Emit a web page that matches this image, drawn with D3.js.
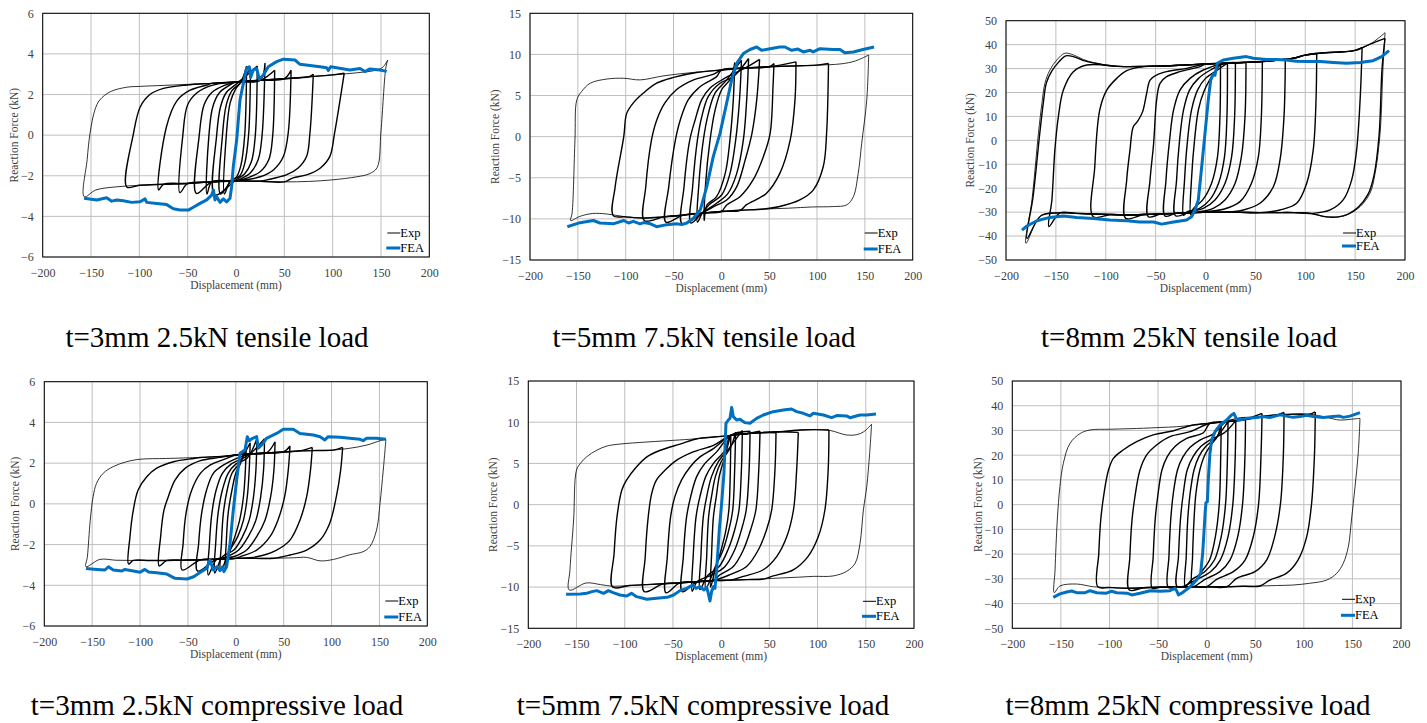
<!DOCTYPE html>
<html>
<head>
<meta charset="utf-8">
<script src="https://cdn.jsdelivr.net/npm/d3@7"></script>
<style>
body { margin: 0; background: #fff; }
text { font-family: "Liberation Serif", "Times New Roman", serif; }
</style>
</head>
<body>
<svg id="chart" width="1427" height="723"></svg>
<script>
// tick labels
var xTicks = [-200, -150, -100, -50, 0, 50, 100, 150, 200];
var yTicks6 = [-6, -4, -2, 0, 2, 4, 6];
var yTicks15 = [-15, -10, -5, 0, 5, 10, 15];
var yTicks50 = [-50, -40, -30, -20, -10, 0, 10, 20, 30, 40, 50];

var titles = ["t=3mm 2.5kN tensile load", "t=5mm 7.5kN tensile load", "t=8mm 25kN tensile load",
              "t=3mm 2.5kN compressive load", "t=5mm 7.5kN compressive load", "t=8mm 25kN compressive load"];

// ---------- t=3mm tensile ----------
// peaks: [d+, F+, d-, F-]
var t3T_peaks = [[157,3.7,-157,-3.03],[112,3.05,-113,-2.55],[80,3.0,-80,-2.7],[57,3.2,-58,-2.83],[40,3.2,-41,-2.87],
  [30,3.55,-30,-2.9],[22,3.4,-22,-2.95],[15,3.3,-16,-2.9],[11,3.4,-12,-2.9]];
var t3T_unload = [
  [[155,3.3],[150,0.2],[146,-1.6],[138,-1.9],[125,-2.05]],
  [[102,0.1],[97,-1.06],[87,-1.63],[73,-1.96],[59,-2.1]],
  [[76.5,0.1],[73,-1.05],[64,-1.63],[52,-1.96],[32,-2.2]],
  [[54,0.1],[49,-1.05],[39,-1.7],[25,-2.05]],
  [[38,0],[34,-1.2],[25,-1.8],[12,-2.1]],
  [[27,0],[23,-1.2],[15,-1.85],[5,-2.15]],
  [[20,0],[16,-1.3],[9,-1.9],[0,-2.2]],
  [[13,0],[9,-1.4],[4,-2.0],[-4,-2.2]],
  [[9,0],[5,-1.5],[0,-2.1],[-6,-2.25]]];
var t3T_reload = [
  [[-154,-1.2],[-151,0.1],[-146,1.24],[-141,1.73],[-130,2.14],[-113,2.36]],
  [[-106,0.1],[-99,1.4],[-89,2.0],[-75,2.3],[-51,2.47]],
  [[-72,0.4],[-61,1.7],[-48,2.2],[-30,2.47]],
  [[-55,0],[-50,1.5],[-40,2.1],[-25,2.45]],
  [[-38,0],[-33,1.5],[-25,2.1],[-12,2.45]],
  [[-28,0],[-24,1.4],[-17,2.1],[-7,2.45]],
  [[-20,0],[-16,1.4],[-10,2.1],[0,2.5]],
  [[-14,0],[-10,1.5],[-4,2.2],[4,2.55]],
  [[-10,0],[-6,1.6],[0,2.3],[5,2.6]]];
var t3T_upper = [[-100,2.4],[-75,2.45],[-50,2.5],[-25,2.55],[0,2.62],[25,2.7],[50,2.78],[75,2.87],[100,2.97],[125,3.07],[145,3.2],[152,3.35]];
var t3T_lower = [[125,-2.1],[100,-2.2],[75,-2.28],[50,-2.3],[25,-2.27],[0,-2.25],[-25,-2.3],[-50,-2.38],[-75,-2.42],[-100,-2.47],[-125,-2.55],[-145,-2.7]];
var t3T_fea = [[-157.2,-3.11],[-144.1,-3.19],[-133.8,-3.08],[-128.6,-3.25],[-123.4,-3.19],[-116.6,-3.23],[-107.9,-3.31],[-99.3,-3.28],
  [-94.1,-3.14],[-92.4,-3.31],[-82.1,-3.36],[-71.7,-3.42],[-64.8,-3.62],[-57.9,-3.69],[-49.3,-3.69],[-44.1,-3.55],[-37.2,-3.36],
  [-30.3,-3.19],[-25.2,-2.95],[-23.4,-2.7],[-21.7,-3.19],[-20,-3.03],[-16.6,-3.31],[-13.1,-3.14],[-9.7,-3.29],[-6.2,-3.11],
  [-4.5,-2.54],[-2.8,-1.55],[0.7,-0.24],[4.1,1.73],[7.6,2.55],[11,3.29],[13.8,3.37],[15.2,2.85],[17.9,3.21],[21.4,3.29],
  [24.1,2.75],[28.3,2.96],[33.4,3.37],[42.1,3.62],[49,3.74],[61,3.7],[66.2,3.49],[86.9,3.37],[93.8,3.32],[95.5,3.18],
  [97.9,3.37],[117.9,3.21],[128.3,3.28],[133.4,3.13],[138.6,3.26],[149,3.21],[155.9,3.14]];

// ---------- t=5mm tensile ----------
var t5T_peaks = [[154,9.93,-157.5,-10.2],[112,8.9,-113,-9.6],[78,9.1,-80.5,-10.2],[55,8.9,-58,-10.4],[40,9.4,-41,-10.6],
  [28.5,9.5,-32,-10.5],[21,9.3,-25,-10.4],[14,9.0,-18,-10.2]];
var t5T_unload = [
  [[152,4.5],[146.7,-0.8],[143,-4.5],[138,-7.3],[131,-8.3],[117,-8.5]],
  [[110,0.4],[106.6,-3.6],[96,-6.5],[82,-7.7],[61,-8.5]],
  [[77,4.5],[72,-0.4],[61,-4.5],[47,-6.9],[26,-8.3]],
  [[54,6.1],[51,0.4],[44,-2.4],[33,-5.3],[19.5,-7.3],[5.6,-8.3]],
  [[37,4.5],[32,0.4],[25,-2.8],[16,-6.1],[5.6,-7.7],[-8,-8.5]],
  [[26.5,4.5],[23,-0.4],[16,-4.5],[7,-6.9],[-5,-8.1]],
  [[19,4.5],[15,-0.4],[9,-4.5],[0.3,-7.1],[-12,-8.2]],
  [[12.5,4.5],[9,-0.4],[4,-4.5],[-5,-7.3],[-15,-8.3]]];
var t5T_reload = [
  [[-156,-9.3],[-153,-0.4],[-151,4.5],[-146,5.5],[-137,6.5],[-120,7.0],[-102,7.1],[-85,6.9]],
  [[-111,-6.1],[-102,0],[-99,2.8],[-92,4.1],[-81.5,5.3],[-67.6,6.5],[-50,7.2],[-26,7.8]],
  [[-79,-6.1],[-73,-0.4],[-67.6,2.0],[-59,4.1],[-47,5.7],[-29,6.9],[-8,7.6]],
  [[-55,-6.1],[-48,-0.4],[-43,2.0],[-34.5,4.5],[-22,6.1],[-5,7.3]],
  [[-39,-6.1],[-33,-0.4],[-27.5,2.0],[-20.5,4.5],[-12,5.9],[2,7]],
  [[-30,-6.1],[-25,-0.4],[-20.5,2.4],[-13.6,4.9],[-1.4,6.5],[12.5,7.3]],
  [[-23.7,-6.1],[-18.8,-0.4],[-13.6,2.8],[-6.6,5.3],[5.6,6.9]],
  [[-16.7,-6.1],[-11.8,-0.4],[-6.6,3.2],[0.3,5.7],[10,7.1]]];
var t5T_upper = [[-60,7.4],[-30,7.8],[0,8.1],[25,8.35],[50,8.5],[75,8.6],[100,8.7],[125,8.85],[140,9.2]];
var t5T_lower = [[120,-8.45],[95,-8.55],[70,-8.7],[45,-8.8],[20,-8.95],[0,-9.1],[-20,-9.3],[-40,-9.55],[-60,-9.75],[-80,-9.9],
  [-100,-9.75],[-120,-9.4],[-135,-9.35],[-148,-9.7]];
var t5T_fea = [[-161,-10.95],[-147.7,-10.46],[-133.8,-10.2],[-126.8,-10.5],[-113,-10.6],[-102,-10.2],[-97,-10.5],[-92,-10.3],
  [-85,-10.6],[-81,-10.45],[-74,-10.6],[-67.6,-10.95],[-57,-10.7],[-46.7,-10.6],[-41.5,-10.7],[-36,-10.5],[-29,-9.9],
  [-22,-8.9],[-15.3,-6.1],[-8.4,-2.4],[-1.4,0.4],[5.6,4.1],[10.8,6.9],[16,8.9],[23,10.1],[30,10.6],[37,10.9],[42,10.5],
  [51,10.7],[61,10.9],[66.5,10.9],[73.5,10.5],[80,10.65],[85.7,10.3],[92.7,10.5],[96,10.3],[103,10.7],[117,10.6],
  [124,10.6],[129,10.2],[138,10.3],[148,10.6],[159.6,10.9]];

// ---------- t=8mm tensile ----------
var t8T_peaks = [[180,45,-180,-43],[180,42.6,-179,-41],[157,38.7,-157,-36],[111.5,36.4,-112.5,-31.9],[80,33.8,-80,-32.6],
  [57,32.9,-57.3,-31.9],[40.6,32.5,-40.6,-31.6],[30,32.5,-30,-31.5],[22,32.3,-22,-31.3],[15,32,-15,-31]];
var t8T_unload = [
  [[178,30.8],[175,2.9],[170,-13.8],[165,-22],[155,-27.7],[145,-30.5],[135,-31.9],[121,-31.9]],
  [[177,30],[174,2],[169,-14.5],[163,-22.5],[153,-28],[143,-30.8],[133,-32],[121,-32]],
  [[155,16.9],[151.5,-4],[146.5,-16.6],[138,-24.9],[125,-29.1],[108,-30.5]],
  [[110.8,16.9],[108,-4],[101.4,-18],[91.4,-26.3],[74.7,-29.1],[54.6,-30.2]],
  [[78.7,9.9],[74.7,-8.2],[68,-19.4],[54.6,-26.3],[38,-29.1],[21,-30]],
  [[56,9.9],[53,-6.8],[46,-18],[34.6,-25.6],[18,-28.8],[1,-29.8]],
  [[39.6,9.9],[36,-6.8],[29.6,-18],[19.5,-24.9],[7.8,-28.4],[-5.5,-29.8]],
  [[29.2,9.9],[26.2,-6.8],[19.5,-18],[9.5,-24.9],[-2.2,-28.4],[-15.5,-29.8]],
  [[21.5,10],[19,-7],[13,-18],[4,-25],[-6,-28.4],[-18,-29.8]],
  [[14.5,10],[12,-7],[6,-18],[-3,-25],[-12,-28.4]]];
var t8T_reload = [
  [[-174,-25],[-167.5,2.9],[-164,15.5],[-161,23.8],[-156,29.4],[-149,33.6],[-141,36.4],[-132.5,35.7],[-122.5,33.8],[-112.5,32.5],[-96,31.1]],
  [[-173,-24],[-166,3.5],[-162.5,16],[-159.5,24],[-154,29],[-147,32.8],[-140,35.3],[-131,34.8],[-121,33.2],[-110,32.2],[-95,31.1]],
  [[-154,-24.9],[-151,-4],[-147.5,9.9],[-142.5,21],[-132.5,28.7],[-119,31.5]],
  [[-111,-11],[-106,12.7],[-99,21],[-89,25.9],[-79,29.1],[-62,30.8]],
  [[-79,-16.6],[-75.7,-4],[-72.4,5.7],[-68,8],[-63,12],[-59,19.6],[-55.6,25.2],[-49,27.3],[-39,28.7],[-19,30.1]],
  [[-55.6,-16.6],[-52,-1.3],[-49,16.9],[-45.6,23.8],[-39,26.6],[-25.6,28.7],[-5.5,30.8]],
  [[-39.6,-16.6],[-36,0.1],[-32,12.7],[-25.6,21],[-15.5,25.9],[-2.2,29.4]],
  [[-29,-16.6],[-26,0],[-22,12.7],[-16,21],[-7,25.9],[5,29.4]],
  [[-21,-16.6],[-18,0],[-14,12.7],[-8,21],[0,25.9],[12,29.4]],
  [[-14,-16],[-11,0],[-7,13],[-1,21],[6,26.5]]];
var t8T_upper = [[-80,30.8],[-60,30.9],[-40,31.1],[-20,31.5],[0,31.9],[20,32.2],[40,32.6],[55,32.9],[70,33.4],[88,34.3],
  [100,35.6],[120,36.6],[138,37],[150,37.6],[165,40.2]];
var t8T_lower = [[121,-31.9],[105,-30.5],[88,-30.2],[70,-30.2],[55,-30.2],[35,-30.1],[20,-30],[0,-30.1],[-12,-30.2],[-30,-30.5],
  [-45,-30.8],[-62,-31.0],[-79,-31.2],[-95,-31.0],[-112,-30.8],[-130,-30.5],[-146,-30.3],[-165,-31.5]];
var t8T_fea = [[-184,-37.5],[-179,-35.8],[-169,-33.6],[-156,-32.2],[-142.5,-31.6],[-129,-32.2],[-112.5,-32.7],[-96,-33.3],
  [-79,-33.6],[-66,-34.1],[-52,-34.1],[-44,-35],[-32,-34.1],[-19,-33.3],[-14,-31.9],[-10.5,-29.1],[-7.2,-24.9],[-3.8,-11],
  [-0.5,2.9],[2.8,16.9],[5.2,25.2],[7.9,27.7],[9.5,27.2],[11.9,32.2],[17.9,33.6],[27.9,34.3],[41,35],[48,34.3],[61,33.8],
  [71,33.8],[81,33.6],[91,33.1],[101,32.9],[115,32.9],[128,32.5],[141.5,32.2],[155,32.5],[168,33.3],[176.6,35],[184,37.5]];

// ---------- t=3mm compressive ----------
var t3C_peaks = [[156.8,3.17,-156.5,-3.09],[111.6,2.77,-112,-2.95],[79.9,2.77,-80,-3.05],[56.6,2.84,-56,-3.25],[41,3.05,-40,-3.3],
  [30,3.2,-28.7,-3.5],[22,3.2,-22,-3.4],[15,3.0,-16,-3.3],[11,3.0,-11,-3.2]];
var t3C_unload = [
  [[154,1.66],[150.6,0.02],[147,-1.29],[140,-2.1],[133,-2.35]],
  [[109.5,1.66],[105,0.35],[98,-0.96],[88,-1.78],[74,-2.27],[56.6,-2.51]],
  [[78,1.66],[74,0.35],[67,-0.8],[56.6,-1.78],[42.6,-2.27],[21.8,-2.6]],
  [[54.8,1.66],[51,0.35],[44,-0.8],[35.7,-1.61],[21.8,-2.27],[4.4,-2.6]],
  [[39.8,1.66],[36.4,0.35],[30.5,-0.8],[21.8,-1.61],[11.3,-2.27],[-2.6,-2.6]],
  [[29,1.66],[26,0.35],[21,-0.8],[13,-1.61],[3,-2.27],[-10,-2.6]],
  [[21,1.66],[18.5,0.35],[14,-0.8],[7,-1.61],[-2,-2.27],[-14,-2.6]],
  [[14,1.66],[12,0.35],[8,-0.8],[2,-1.61],[-6,-2.27]],
  [[10,1.66],[8,0.35],[4,-0.8],[-1,-1.61],[-6,-2.3]]];
var t3C_reload = [
  [[-155,-2.6],[-152,-0.8],[-149,0.35],[-145.5,1.0],[-138.5,1.5],[-128,1.83],[-114,2.07]],
  [[-110.5,-1.61],[-107,-0.3],[-102,0.68],[-93,1.33],[-83,1.74],[-65,2.07],[-44,2.23]],
  [[-78.5,-1.61],[-75,-0.3],[-70.5,0.35],[-63.5,1.17],[-53,1.74],[-37,2.12],[-16.5,2.28]],
  [[-55,-1.94],[-52,-0.47],[-46,0.68],[-37,1.5],[-27,1.9],[-9.6,2.23]],
  [[-38.8,-1.94],[-35.7,-0.47],[-30.5,0.68],[-23.5,1.5],[-13,1.9],[0.9,2.23]],
  [[-27.5,-1.94],[-25,-0.47],[-20.5,0.68],[-14,1.5],[-5,1.95],[8,2.25]],
  [[-21,-1.94],[-18.5,-0.47],[-14,0.68],[-8,1.5],[0,1.95],[12,2.25]],
  [[-15,-1.94],[-13,-0.47],[-9,0.68],[-4,1.5],[3,1.95]],
  [[-10,-1.94],[-8,-0.47],[-4,0.68],[0,1.5],[5,2.0]]];
var t3C_upper = [[-100,2.19],[-72,2.23],[-37,2.28],[-15,2.33],[0,2.4],[15,2.45],[32,2.5],[50,2.55],[67,2.6],[85,2.62],[102,2.64],
  [119,2.73],[137,2.89],[150.6,3.1]];
var t3C_lower = [[119,-2.5],[102,-2.73],[88,-2.8],[74,-2.63],[60,-2.65],[40,-2.67],[20,-2.68],[0,-2.68],[-20,-2.72],[-37,-2.75],
  [-55,-2.77],[-72,-2.78],[-90,-2.78],[-107,-2.78],[-125,-2.77],[-142,-2.73]];
var t3C_fea = [[-156.5,-3.17],[-145,-3.22],[-136.7,-3.25],[-133,-3.09],[-128,-3.25],[-119,-3.3],[-115.8,-3.22],[-107,-3.3],
  [-100,-3.36],[-95,-3.22],[-91,-3.35],[-82.7,-3.38],[-72,-3.45],[-63.5,-3.66],[-51,-3.69],[-44,-3.58],[-37,-3.36],[-30.5,-3.17],
  [-27,-2.76],[-23.5,-3.25],[-20,-3.09],[-16.5,-3.28],[-13.8,-3.09],[-12.4,-3.33],[-9.6,-3.09],[-6,-1.94],[-2.6,-0.3],
  [0.9,1.17],[4.4,2.48],[9.6,2.64],[12,3.3],[14,3.1],[17.6,3.22],[21.8,3.3],[23.5,2.73],[27,2.89],[32,3.22],[42.6,3.46],
  [49.6,3.66],[60,3.66],[67,3.46],[81,3.38],[88,3.3],[93,3.14],[96.6,3.3],[108.8,3.27],[119,3.22],[129.7,3.17],[133,3.1],
  [136.6,3.22],[147,3.22],[156.8,3.17]];

// ---------- t=5mm compressive ----------
var t5C_peaks = [[156,9.75,-157.5,-10.35],[111.8,9.06,-112.5,-10.0],[80,8.77,-79.7,-10.55],[56.9,8.73,-57.2,-10.7],
  [40.3,8.9,-40.3,-10.55],[30,8.9,-30,-10.5],[22,9.0,-22,-10.3],[15,8.8,-16,-10.2],[10,8.5,-11,-10.0]];
var t5C_unload = [
  [[154,6.2],[151,2.2],[147.5,-0.65],[144,-4.7],[139,-7.1],[130,-8.1],[116,-8.65]],
  [[111,4.2],[107.6,-0.65],[100.7,-3.9],[90,-6.3],[74.8,-7.9],[54,-8.65]],
  [[78.3,4.2],[75,-0.65],[68,-3.9],[57.6,-6.3],[43.7,-7.9],[23,-8.7]],
  [[55.8,4.2],[52.4,-0.65],[47,-3.07],[38.5,-5.5],[26.4,-7.5],[9,-8.5]],
  [[39,4.2],[36,-0.65],[30.5,-3.07],[23,-5.5],[12.6,-7.5],[-1.2,-8.5]],
  [[29,4.2],[26,-0.65],[21,-3.07],[14,-5.5],[4,-7.5],[-9,-8.5]],
  [[21,4.2],[18.5,-0.65],[14,-3.07],[7,-5.5],[-2,-7.5],[-14,-8.6]],
  [[14,4.2],[12,-0.65],[8,-3.07],[2,-5.5],[-6,-7.5]],
  [[9.5,4],[8,-0.65],[5,-3.07],[0,-5.5],[-6,-7.8]]];
var t5C_reload = [
  [[-156.8,-7.9],[-153,-1.86],[-150,4.2],[-146,5.0],[-139.5,5.8],[-129,6.6],[-118.8,7.1]],
  [[-111,-5.9],[-108,-1.46],[-103,1.78],[-98,3.0],[-87.7,4.6],[-77,5.8],[-63,6.6],[-42.7,7.35]],
  [[-78.7,-6.3],[-75.6,-1.46],[-72,1.37],[-67,3.0],[-58,4.2],[-46,5.4],[-29,6.4],[-8,7.2]],
  [[-55.8,-6.3],[-52.4,-1.46],[-48,0.97],[-41,3.0],[-32,4.6],[-22,5.8],[-8,6.8]],
  [[-39.2,-6.3],[-35.8,-1.46],[-31.6,0.97],[-25.4,3.4],[-16.8,5.0],[-4.7,6.4]],
  [[-29,-6.3],[-26,-1.46],[-22,0.97],[-16,3.4],[-8,5.0],[4,6.6]],
  [[-21,-6.3],[-18.5,-1.46],[-15,0.97],[-10,3.4],[-3,5.2],[8,6.8]],
  [[-15,-6.3],[-13,-1.46],[-10,0.97],[-6,3.4],[0,5.2],[10,7]],
  [[-10,-6.3],[-8,-1.46],[-5,1],[-2,3.4],[3,5.5]]];
var t5C_upper = [[-105,7.35],[-77,7.6],[-43,7.85],[-25,8.0],[-8,8.2],[10,8.4],[26,8.6],[45,8.75],[61,8.85],[82,9.05],[96,9.1],
  [113,9.0],[130,8.45],[141,8.5],[148,8.85]];
var t5C_lower = [[116,-8.65],[96,-8.7],[80,-8.8],[61,-8.9],[45,-9.0],[26,-9.1],[10,-9.15],[-8,-9.2],[-25,-9.35],[-43,-9.5],
  [-60,-9.6],[-77,-9.7],[-95,-9.8],[-112,-9.9],[-125,-9.7],[-140,-9.5]];
var t5C_fea = [[-160.8,-10.88],[-146,-10.84],[-139.5,-10.76],[-134,-10.55],[-129,-10.43],[-122,-10.76],[-117,-10.43],[-112,-10.68],
  [-105,-10.96],[-98,-11.08],[-93,-10.76],[-87.7,-11.16],[-77,-11.48],[-67,-11.36],[-56,-11.24],[-49.3,-10.96],[-42.7,-10.43],
  [-35.8,-10.15],[-29.6,-9.75],[-26,-10.15],[-22,-9.95],[-17.8,-10.35],[-15,-10.03],[-13.3,-10.76],[-11.6,-11.69],[-9.9,-10.55],
  [-8,-9.95],[-6.4,-10.15],[-4.7,-7.9],[-1.9,-3.07],[0.5,0.16],[2.9,3.8],[5,9.87],[7.4,10.27],[9.2,10.47],[10.9,11.8],
  [12.6,10.68],[16,10.27],[19.5,10.35],[24.7,9.95],[29.9,9.87],[36.8,10.47],[43.7,10.88],[54,11.28],[64.4,11.48],[73,11.6],
  [78.3,11.28],[85.2,11.08],[92,10.76],[95.6,11.08],[106,10.88],[114.6,10.55],[119.8,10.8],[130,10.76],[133.6,10.55],
  [144,10.88],[151,10.88],[160.6,11.0]];

// ---------- t=8mm compressive ----------
var t8C_peaks = [[157.8,34.9,-156.8,-35.6],[111.8,37.5,-112,-33.2],[79.6,37.3,-79.6,-34.5],[57,36.9,-56,-33.8],
  [40,35.3,-39.5,-33.4],[30,34,-30,-33.3],[22,33.5,-22,-33],[15,33,-15,-32.5]];
var t8C_unload = [
  [[156,20.8],[152.7,7.3],[149,-6.2],[145.8,-17],[140.6,-23.7],[133.8,-27.8],[123.5,-30.5],[106,-31.8]],
  [[111,20.8],[108,0.5],[103,-12.9],[94,-22.4],[82,-27.8],[65,-30.5]],
  [[79,20.8],[76,0.5],[70,-12.9],[61.7,-22.4],[49.7,-27.1],[30.9,-29.8]],
  [[56,20.8],[53.5,0.5],[48,-12.9],[39.5,-22.4],[27.4,-27.1],[10.3,-30.2]],
  [[39.5,20.8],[37,0.5],[32,-12.9],[24,-22.4],[13.7,-27.1],[-1.7,-30.2]],
  [[29.5,20.8],[27,0.5],[22,-12.9],[14,-22.4],[4,-27.1],[-10,-30.2]],
  [[21.5,20.8],[19.5,0.5],[15,-12.9],[8,-22.4],[-2,-27.1],[-15,-30.2]],
  [[14.5,20],[13,0.5],[9,-12.9],[3,-22.4],[-6,-27.5]]];
var t8C_reload = [
  [[-156,-26.4],[-153.7,-6.2],[-151,7.3],[-147.5,16.7],[-140.6,24.8],[-130,28.8],[-120,30.2]],
  [[-111,-19.7],[-109,-6.2],[-105.6,4.6],[-101,14],[-96,18.7],[-86,22.1],[-72,25.5],[-55,28.2],[-34,29.9]],
  [[-79,-21],[-76.8,-6.2],[-73.8,3.2],[-68.6,14],[-61.7,20.1],[-51.5,24.1],[-37.7,27.5],[-17,29.5]],
  [[-55,-21],[-53,-6.2],[-50.4,3.2],[-46,14],[-40.5,19.4],[-32.6,23.5],[-20.6,26.8],[-3.4,29.1]],
  [[-38.8,-21],[-37,-6.2],[-34.3,4.6],[-30,14],[-24.7,19.1],[-17,23.2],[-6.9,26.1],[6.9,28.6]],
  [[-29,-21],[-27,-6.2],[-24,4.6],[-20,14],[-14,19.4],[-6,23.5],[5,26.5],[18,29]],
  [[-21,-21],[-19.5,-6.2],[-17,4.6],[-13,14],[-8,19.4],[-1,23.5],[9,26.8]],
  [[-14.5,-21],[-13,-6.2],[-11,4.6],[-7,14],[-2,20],[5,24.5],[11,27.5]]];
var t8C_upper = [[-99.5,30.5],[-80,30.7],[-65,30.9],[-48,31.2],[-31,31.5],[-15,32.1],[3.4,32.9],[20,33.5],[37.7,34.3],[55,35.5],
  [72,36.3],[90,36.6],[106,36.6],[123.5,35.3],[137,34.2],[147.5,34.5]];
var t8C_lower = [[106,-31.8],[89,-32.5],[72,-32.7],[55,-32.9],[38,-33.0],[20.6,-33.2],[0,-33.2],[-13.7,-33.2],[-30,-33.3],
  [-48,-33.4],[-65,-33.6],[-82,-33.8],[-100,-33.5],[-116.6,-33.2],[-133.8,-32.1],[-151,-32.9]];
var t8C_fea = [[-157.8,-37.5],[-151,-36.1],[-144,-35.3],[-139,-34.9],[-133.8,-35.6],[-125,-35.6],[-120,-34.8],[-113,-35.6],
  [-103,-35.8],[-97.8,-35],[-92.6,-35.6],[-82,-35.8],[-77,-36.5],[-68.6,-35.8],[-58,-34.8],[-48,-35],[-37.7,-34.8],[-32.6,-33.8],
  [-30.9,-34.8],[-29,-36.5],[-25.7,-35.8],[-17,-33.2],[-10.3,-30.5],[-6.2,-27.8],[-4.1,-19.7],[-2.4,-8.9],[-1.4,-2.2],[-0.7,0.8],
  [0.7,1.2],[1.7,10],[3.4,20.8],[5.1,26.1],[8.6,29.5],[13.7,32.2],[20.6,34.2],[25.7,36.3],[28,36.9],[30.9,34.5],[34.3,34.2],
  [41,34.9],[51.5,35.2],[58,35.6],[65,35.2],[75.5,36.3],[82,35.8],[89,35.3],[96,35.6],[103,36.1],[109.8,35.6],[120,35.2],
  [130,35.6],[137,35.8],[140.6,35.3],[147.5,35.8],[157.8,37.2]];

// layout of the six panels (plot box, title spot, legend offsets)
var panels = [
  {peaks: t3T_peaks, unload: t3T_unload, reload: t3T_reload, upper: t3T_upper, lower: t3T_lower, fea: t3T_fea,
   box: [42.7, 13.3, 429.3, 257], yDom: [-6, 6], yTicks: yTicks6, title: titles[0], tx: 217, ty: 347, yt: 29, leg: [42, 24, 9]},
  {peaks: t5T_peaks, unload: t5T_unload, reload: t5T_reload, upper: t5T_upper, lower: t5T_lower, fea: t5T_fea,
   box: [530, 13.3, 912.7, 260], yDom: [-15, 15], yTicks: yTicks15, title: titles[1], tx: 704, ty: 347, yt: 35, leg: [48, 27, 11]},
  {peaks: t8T_peaks, unload: t8T_unload, reload: t8T_reload, upper: t8T_upper, lower: t8T_lower, fea: t8T_fea,
   box: [1006, 20.7, 1405, 260], yDom: [-50, 50], yTicks: yTicks50, title: titles[2], tx: 1189, ty: 347, yt: 36, leg: [62, 27, 14]},
  {peaks: t3C_peaks, unload: t3C_unload, reload: t3C_reload, upper: t3C_upper, lower: t3C_lower, fea: t3C_fea,
   box: [44.3, 381.7, 427.3, 626], yDom: [-6, 6], yTicks: yTicks6, title: titles[3], tx: 217, ty: 715, yt: 29, leg: [42, 25, 9]},
  {peaks: t5C_peaks, unload: t5C_unload, reload: t5C_reload, upper: t5C_upper, lower: t5C_lower, fea: t5C_fea,
   box: [528.3, 381, 914, 628.3], yDom: [-15, 15], yTicks: yTicks15, title: titles[4], tx: 703, ty: 715, yt: 35, leg: [51, 27, 12]},
  {peaks: t8C_peaks, unload: t8C_unload, reload: t8C_reload, upper: t8C_upper, lower: t8C_lower, fea: t8C_fea,
   box: [1012.3, 381, 1401, 628.3], yDom: [-50, 50], yTicks: yTicks50, title: titles[5], tx: 1188, ty: 715, yt: 34, leg: [59, 29, 13]}
];

var svg = d3.select("#chart");
svg.append("rect").attr("width", 1427).attr("height", 723).attr("fill", "#fff");

var blue = "#0070C0";

panels.forEach(function(p) {
  var L = p.box[0], T = p.box[1], R = p.box[2], B = p.box[3];
  var x = d3.scaleLinear().domain([-200, 200]).range([L, R]);
  var y = d3.scaleLinear().domain(p.yDom).range([B, T]);
  var g = svg.append("g");

  // grid
  g.selectAll(".gx").data(xTicks).enter().append("line")
    .attr("x1", function(d) { return x(d); }).attr("x2", function(d) { return x(d); })
    .attr("y1", T).attr("y2", B).attr("stroke", "#bfbfbf").attr("stroke-width", 1);
  g.selectAll(".gy").data(p.yTicks).enter().append("line")
    .attr("x1", L).attr("x2", R)
    .attr("y1", function(d) { return y(d); }).attr("y2", function(d) { return y(d); })
    .attr("stroke", "#bfbfbf").attr("stroke-width", 1);

  // axes labels
  var ax = g.append("g").attr("transform", "translate(0," + B + ")")
    .call(d3.axisBottom(x).tickValues(xTicks).tickSize(0).tickPadding(11).tickFormat(d3.format("d")));
  var ay = g.append("g").attr("transform", "translate(" + L + ",0)")
    .call(d3.axisLeft(y).tickValues(p.yTicks).tickSize(0).tickPadding(9).tickFormat(d3.format("d")));
  [ax, ay].forEach(function(a) {
    a.select(".domain").remove();
    a.selectAll("text").attr("font-size", "12px").attr("fill", "#404040")
      .attr("font-family", "'Liberation Serif', 'Times New Roman', serif");
  });

  g.append("text").attr("x", (L + R) / 2).attr("y", B + 32).attr("text-anchor", "middle")
    .attr("font-size", "11.5px").attr("fill", "#404040").text("Displacement (mm)");
  g.append("text").attr("transform", "translate(" + (L - p.yt) + "," + ((T + B) / 2) + ") rotate(-90)")
    .attr("text-anchor", "middle").attr("dominant-baseline", "central")
    .attr("font-size", "11.5px").attr("fill", "#404040").text("Reaction Force (kN)");

  // experimental loops
  var line = d3.line().x(function(d) { return x(d[0]); }).y(function(d) { return y(d[1]); })
    .curve(d3.curveCatmullRom.alpha(0.5));
  var loops = p.peaks.map(function(pk, i) {
    var un = p.unload[i], re = p.reload[i];
    var uEnd = un[un.length - 1][0], rEnd = re[re.length - 1][0];
    var pts = [[pk[0], pk[1]]].concat(un);
    pts = pts.concat(p.lower.filter(function(q) { return q[0] < uEnd - 4 && q[0] > pk[2] + 4; }));
    pts.push([pk[2], pk[3]]);
    pts = pts.concat(re);
    pts = pts.concat(p.upper.filter(function(q) { return q[0] > rEnd + 4 && q[0] < pk[0] - 4; }));
    pts.push([pk[0], pk[1]]);
    return pts;
  });
  g.selectAll(".loop").data(loops).enter().append("path")
    .attr("d", line).attr("fill", "none").attr("stroke", "#000")
    .attr("stroke-width", function(d, i) { return i === 0 ? 0.8 : 1.4; })
    .attr("stroke-linejoin", "round");

  // FEA
  g.append("path").datum(p.fea)
    .attr("d", d3.line().x(function(d) { return x(d[0]); }).y(function(d) { return y(d[1]); }))
    .attr("fill", "none").attr("stroke", blue).attr("stroke-width", 3).attr("stroke-linejoin", "round");

  // box
  g.append("rect").attr("x", L).attr("y", T).attr("width", R - L).attr("height", B - T)
    .attr("fill", "none").attr("stroke", "#000").attr("stroke-width", 1);

  // legend
  var lx = R - p.leg[0];
  g.append("line").attr("x1", lx).attr("x2", lx + 13).attr("y1", B - p.leg[1]).attr("y2", B - p.leg[1])
    .attr("stroke", "#000").attr("stroke-width", 1);
  g.append("line").attr("x1", lx - 1).attr("x2", lx + 13).attr("y1", B - p.leg[2]).attr("y2", B - p.leg[2])
    .attr("stroke", blue).attr("stroke-width", 3);
  g.append("text").attr("x", lx + 13).attr("y", B - p.leg[1]).attr("dominant-baseline", "central")
    .attr("font-size", "12.5px").attr("fill", "#000").text("Exp");
  g.append("text").attr("x", lx + 13).attr("y", B - p.leg[2]).attr("dominant-baseline", "central")
    .attr("font-size", "12.5px").attr("fill", "#000").text("FEA");

  // caption
  svg.append("text").attr("x", p.tx).attr("y", p.ty).attr("text-anchor", "middle")
    .attr("font-size", "29px").attr("fill", "#000").text(p.title);
});
</script>
</body>
</html>
